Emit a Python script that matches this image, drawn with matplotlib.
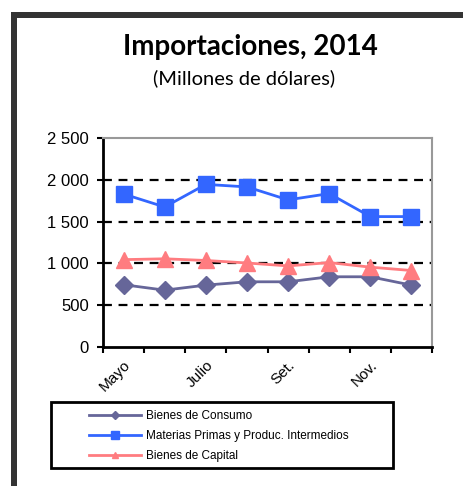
import matplotlib
matplotlib.use("Agg")
import matplotlib.pyplot as plt
from matplotlib.patches import Rectangle
from matplotlib.lines import Line2D

months = ["Mayo", "Junio", "Julio", "Agosto", "Set.", "Oct.", "Nov.", "Dic."]
tick_labels = ["Mayo", "", "Julio", "", "Set.", "", "Nov.", ""]
consumo = [745, 680, 740, 780, 780, 840, 840, 740]
materias = [1830, 1675, 1945, 1915, 1760, 1835, 1560, 1560]
capital = [1045, 1055, 1035, 1005, 970, 1010, 955, 915]
yticks = [0, 500, 1000, 1500, 2000, 2500]
ytick_labels = ["0", "500", "1 000", "1 500", "2 000", "2 500"]

W, H = 463, 486
fig = plt.figure(figsize=(W / 100, H / 100), dpi=100)
fig.patch.set_facecolor("white")

def fx(px):
    return px / W

def fy(py):
    return 1 - py / H

# outer frame (top and left dark bars)
border = "#333333"
fig.patches.append(Rectangle((fx(11), 0), fx(6), fy(12), transform=fig.transFigure,
                             facecolor=border, edgecolor="none", zorder=0))
fig.patches.append(Rectangle((fx(11), fy(18)), 1 - fx(11), 6 / H, transform=fig.transFigure,
                             facecolor=border, edgecolor="none", zorder=0))

fig.text(fx(250), fy(47), "Importaciones, 2014", ha="center", va="center",
         fontsize=20, fontweight="bold", family="Lato", color="black")
fig.text(fx(244), fy(78), "(Millones de dólares)", ha="center", va="center",
         fontsize=14.5, family="Lato", color="black")

ax = fig.add_axes([fx(103), fy(347), fx(432) - fx(103), fy(138) - fy(347)])
x = list(range(len(months)))

ax.set_ylim(0, 2500)
ax.set_xlim(-0.5, len(months) - 0.5)
for v in yticks[1:-1]:
    ax.axhline(v, color="black", lw=1.6, ls=(0, (4, 3)), zorder=1)

c1, c2, c3 = "#666699", "#3366FF", "#FF7C80"
ax.plot(x, consumo, color=c1, lw=2, marker="D", ms=9, mec=c1, mfc=c1, zorder=3)
ax.plot(x, materias, color=c2, lw=2, marker="s", ms=11, mec=c2, mfc=c2, zorder=3)
ax.plot(x, capital, color=c3, lw=2, marker="^", ms=11, mec=c3, mfc=c3, zorder=3)

ax.set_yticks(yticks)
ax.set_yticklabels(ytick_labels, family="Liberation Sans", fontsize=12)
ax.set_xticks([i - 0.5 for i in range(len(months) + 1)])
ax.set_xticklabels([])
ax.set_xticks(x, minor=True)
ax.set_xticklabels(tick_labels, minor=True, rotation=45, ha="right", va="top",
                   rotation_mode="anchor", family="Liberation Sans", fontsize=11)
ax.tick_params(axis="x", which="minor", length=0, pad=8)
ax.tick_params(axis="x", which="major", direction="out", length=4, width=1.5)
ax.tick_params(axis="y", direction="out", length=4, width=1.5, pad=6)

for s in ["left", "bottom"]:
    ax.spines[s].set_color("black")
    ax.spines[s].set_linewidth(2)
for s in ["top", "right"]:
    ax.spines[s].set_color("#999999")
    ax.spines[s].set_linewidth(1.5)

# legend
fig.patches.append(Rectangle((fx(51), fy(468)), fx(393) - fx(51), fy(402) - fy(468),
                             transform=fig.transFigure, facecolor="white",
                             edgecolor="black", lw=2, zorder=1))
handles = [
    Line2D([], [], color=c1, lw=2, marker="D", ms=4),
    Line2D([], [], color=c2, lw=2, marker="s", ms=6),
    Line2D([], [], color=c3, lw=2, marker="^", ms=5),
]
labels = ["Bienes de Consumo", "Materias Primas y Produc. Intermedios", "Bienes de Capital"]
leg = fig.legend(handles, labels, loc="upper left", bbox_to_anchor=(fx(80), fy(401)),
                 frameon=False, handlelength=4.4, handletextpad=0.4, labelspacing=0.65,
                 borderpad=0.3, prop={"family": "Liberation Sans", "size": 8.5})

fig.savefig("out.png", dpi=100)
